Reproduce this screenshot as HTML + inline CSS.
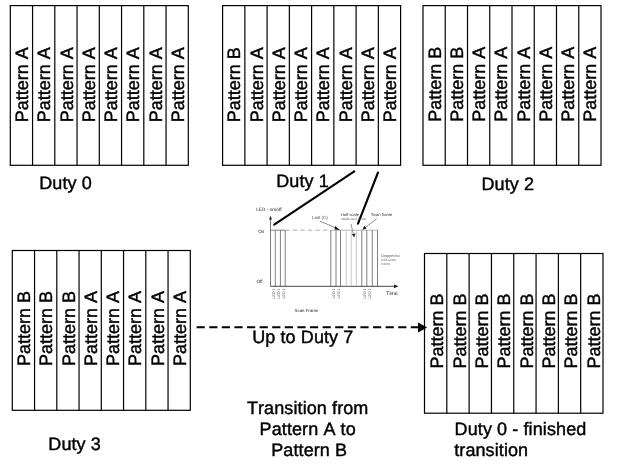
<!DOCTYPE html><html><head><meta charset="utf-8"><style>html,body{margin:0;padding:0;background:#fff;}svg{display:block;will-change:transform;}text{font-family:"Liberation Sans",sans-serif;font-kerning:none;font-feature-settings:"kern" 0;}.t{stroke:#000;stroke-width:0.42px;}</style></head><body>
<svg text-rendering="geometricPrecision" width="620" height="465" viewBox="0 0 620 465">
<rect x="0" y="0" width="620" height="465" fill="#fff"/>
<g stroke="#000" stroke-width="1.2" fill="none">
<rect x="10.3" y="5.6" width="178.0" height="159.70"/>
<line x1="32.55" y1="5.6" x2="32.55" y2="165.3"/>
<line x1="54.80" y1="5.6" x2="54.80" y2="165.3"/>
<line x1="77.05" y1="5.6" x2="77.05" y2="165.3"/>
<line x1="99.30" y1="5.6" x2="99.30" y2="165.3"/>
<line x1="121.55" y1="5.6" x2="121.55" y2="165.3"/>
<line x1="143.80" y1="5.6" x2="143.80" y2="165.3"/>
<line x1="166.05" y1="5.6" x2="166.05" y2="165.3"/>
</g>
<text class="t" font-size="18" fill="#000" text-anchor="middle" transform="translate(28.02,84.65) rotate(-90)">Pattern A</text>
<text class="t" font-size="18" fill="#000" text-anchor="middle" transform="translate(50.27,84.65) rotate(-90)">Pattern A</text>
<text class="t" font-size="18" fill="#000" text-anchor="middle" transform="translate(72.52,84.65) rotate(-90)">Pattern A</text>
<text class="t" font-size="18" fill="#000" text-anchor="middle" transform="translate(94.77,84.65) rotate(-90)">Pattern A</text>
<text class="t" font-size="18" fill="#000" text-anchor="middle" transform="translate(117.02,84.65) rotate(-90)">Pattern A</text>
<text class="t" font-size="18" fill="#000" text-anchor="middle" transform="translate(139.28,84.65) rotate(-90)">Pattern A</text>
<text class="t" font-size="18" fill="#000" text-anchor="middle" transform="translate(161.53,84.65) rotate(-90)">Pattern A</text>
<text class="t" font-size="18" fill="#000" text-anchor="middle" transform="translate(183.78,84.65) rotate(-90)">Pattern A</text>
<g stroke="#000" stroke-width="1.2" fill="none">
<rect x="222.6" y="5.6" width="178.0" height="159.70"/>
<line x1="244.85" y1="5.6" x2="244.85" y2="165.3"/>
<line x1="267.10" y1="5.6" x2="267.10" y2="165.3"/>
<line x1="289.35" y1="5.6" x2="289.35" y2="165.3"/>
<line x1="311.60" y1="5.6" x2="311.60" y2="165.3"/>
<line x1="333.85" y1="5.6" x2="333.85" y2="165.3"/>
<line x1="356.10" y1="5.6" x2="356.10" y2="165.3"/>
<line x1="378.35" y1="5.6" x2="378.35" y2="165.3"/>
</g>
<text class="t" font-size="18" fill="#000" text-anchor="middle" transform="translate(240.32,84.65) rotate(-90)">Pattern B</text>
<text class="t" font-size="18" fill="#000" text-anchor="middle" transform="translate(262.57,84.65) rotate(-90)">Pattern A</text>
<text class="t" font-size="18" fill="#000" text-anchor="middle" transform="translate(284.83,84.65) rotate(-90)">Pattern A</text>
<text class="t" font-size="18" fill="#000" text-anchor="middle" transform="translate(307.08,84.65) rotate(-90)">Pattern A</text>
<text class="t" font-size="18" fill="#000" text-anchor="middle" transform="translate(329.33,84.65) rotate(-90)">Pattern A</text>
<text class="t" font-size="18" fill="#000" text-anchor="middle" transform="translate(351.58,84.65) rotate(-90)">Pattern A</text>
<text class="t" font-size="18" fill="#000" text-anchor="middle" transform="translate(373.83,84.65) rotate(-90)">Pattern A</text>
<text class="t" font-size="18" fill="#000" text-anchor="middle" transform="translate(396.08,84.65) rotate(-90)">Pattern A</text>
<g stroke="#000" stroke-width="1.2" fill="none">
<rect x="423.0" y="5.6" width="178.0" height="159.70"/>
<line x1="445.25" y1="5.6" x2="445.25" y2="165.3"/>
<line x1="467.50" y1="5.6" x2="467.50" y2="165.3"/>
<line x1="489.75" y1="5.6" x2="489.75" y2="165.3"/>
<line x1="512.00" y1="5.6" x2="512.00" y2="165.3"/>
<line x1="534.25" y1="5.6" x2="534.25" y2="165.3"/>
<line x1="556.50" y1="5.6" x2="556.50" y2="165.3"/>
<line x1="578.75" y1="5.6" x2="578.75" y2="165.3"/>
</g>
<text class="t" font-size="18" fill="#000" text-anchor="middle" transform="translate(440.73,84.25) rotate(-90)">Pattern B</text>
<text class="t" font-size="18" fill="#000" text-anchor="middle" transform="translate(462.98,84.25) rotate(-90)">Pattern B</text>
<text class="t" font-size="18" fill="#000" text-anchor="middle" transform="translate(485.23,84.25) rotate(-90)">Pattern A</text>
<text class="t" font-size="18" fill="#000" text-anchor="middle" transform="translate(507.48,84.25) rotate(-90)">Pattern A</text>
<text class="t" font-size="18" fill="#000" text-anchor="middle" transform="translate(529.73,84.25) rotate(-90)">Pattern A</text>
<text class="t" font-size="18" fill="#000" text-anchor="middle" transform="translate(551.98,84.25) rotate(-90)">Pattern A</text>
<text class="t" font-size="18" fill="#000" text-anchor="middle" transform="translate(574.23,84.25) rotate(-90)">Pattern A</text>
<text class="t" font-size="18" fill="#000" text-anchor="middle" transform="translate(596.48,84.25) rotate(-90)">Pattern A</text>
<g stroke="#000" stroke-width="1.2" fill="none">
<rect x="12.3" y="250.5" width="178.0" height="159.80"/>
<line x1="34.55" y1="250.5" x2="34.55" y2="410.3"/>
<line x1="56.80" y1="250.5" x2="56.80" y2="410.3"/>
<line x1="79.05" y1="250.5" x2="79.05" y2="410.3"/>
<line x1="101.30" y1="250.5" x2="101.30" y2="410.3"/>
<line x1="123.55" y1="250.5" x2="123.55" y2="410.3"/>
<line x1="145.80" y1="250.5" x2="145.80" y2="410.3"/>
<line x1="168.05" y1="250.5" x2="168.05" y2="410.3"/>
</g>
<text class="t" font-size="18" fill="#000" text-anchor="middle" transform="translate(30.02,328.40) rotate(-90)">Pattern B</text>
<text class="t" font-size="18" fill="#000" text-anchor="middle" transform="translate(52.27,328.40) rotate(-90)">Pattern B</text>
<text class="t" font-size="18" fill="#000" text-anchor="middle" transform="translate(74.52,328.40) rotate(-90)">Pattern B</text>
<text class="t" font-size="18" fill="#000" text-anchor="middle" transform="translate(96.77,328.40) rotate(-90)">Pattern A</text>
<text class="t" font-size="18" fill="#000" text-anchor="middle" transform="translate(119.02,328.40) rotate(-90)">Pattern A</text>
<text class="t" font-size="18" fill="#000" text-anchor="middle" transform="translate(141.28,328.40) rotate(-90)">Pattern A</text>
<text class="t" font-size="18" fill="#000" text-anchor="middle" transform="translate(163.53,328.40) rotate(-90)">Pattern A</text>
<text class="t" font-size="18" fill="#000" text-anchor="middle" transform="translate(185.78,328.40) rotate(-90)">Pattern A</text>
<g stroke="#000" stroke-width="1.2" fill="none">
<rect x="424.5" y="253.5" width="178.5" height="159.70"/>
<line x1="446.81" y1="253.5" x2="446.81" y2="413.2"/>
<line x1="469.12" y1="253.5" x2="469.12" y2="413.2"/>
<line x1="491.44" y1="253.5" x2="491.44" y2="413.2"/>
<line x1="513.75" y1="253.5" x2="513.75" y2="413.2"/>
<line x1="536.06" y1="253.5" x2="536.06" y2="413.2"/>
<line x1="558.38" y1="253.5" x2="558.38" y2="413.2"/>
<line x1="580.69" y1="253.5" x2="580.69" y2="413.2"/>
</g>
<text class="t" font-size="18" fill="#000" text-anchor="middle" transform="translate(443.46,330.95) rotate(-90)">Pattern B</text>
<text class="t" font-size="18" fill="#000" text-anchor="middle" transform="translate(465.77,330.95) rotate(-90)">Pattern B</text>
<text class="t" font-size="18" fill="#000" text-anchor="middle" transform="translate(488.08,330.95) rotate(-90)">Pattern B</text>
<text class="t" font-size="18" fill="#000" text-anchor="middle" transform="translate(510.39,330.95) rotate(-90)">Pattern B</text>
<text class="t" font-size="18" fill="#000" text-anchor="middle" transform="translate(532.71,330.95) rotate(-90)">Pattern B</text>
<text class="t" font-size="18" fill="#000" text-anchor="middle" transform="translate(555.02,330.95) rotate(-90)">Pattern B</text>
<text class="t" font-size="18" fill="#000" text-anchor="middle" transform="translate(577.33,330.95) rotate(-90)">Pattern B</text>
<text class="t" font-size="18" fill="#000" text-anchor="middle" transform="translate(599.64,330.95) rotate(-90)">Pattern B</text>
<text class="t" x="39.2" y="188.5" font-size="18" fill="#000" text-anchor="start" letter-spacing="0.1">Duty 0</text>
<text class="t" x="276.2" y="186.6" font-size="18" fill="#000" text-anchor="start" letter-spacing="0.1">Duty 1</text>
<text class="t" x="481.5" y="189.5" font-size="18" fill="#000" text-anchor="start" letter-spacing="0.1">Duty 2</text>
<text class="t" x="48.3" y="450.3" font-size="18" fill="#000" text-anchor="start" letter-spacing="0.1">Duty 3</text>
<text class="t" x="252.2" y="343.4" font-size="18" fill="#000" text-anchor="start" letter-spacing="0.1">Up to Duty 7</text>
<text class="t" x="307.7" y="413.5" font-size="18" fill="#000" text-anchor="middle" letter-spacing="0.1">Transition from</text>
<text class="t" x="307.7" y="434.8" font-size="18" fill="#000" text-anchor="middle" letter-spacing="0.1">Pattern A to</text>
<text class="t" x="309.2" y="456.0" font-size="18" fill="#000" text-anchor="middle" letter-spacing="0.1">Pattern B</text>
<text class="t" x="454.6" y="434.7" font-size="18" fill="#000" text-anchor="start" letter-spacing="0.1">Duty 0 - finished</text>
<text class="t" x="454.2" y="455.6" font-size="18" fill="#000" text-anchor="start" letter-spacing="0.1">transition</text>
<g stroke="#000" stroke-width="2.1" stroke-linecap="round"><line x1="354.3" y1="171.4" x2="274.2" y2="224.7"/><line x1="378" y1="172.5" x2="358" y2="223.7"/></g>
<line x1="196.6" y1="327.2" x2="419" y2="327.2" stroke="#000" stroke-width="2.1" stroke-dasharray="8.2 4.4"/>
<polygon points="418,322.4 427.2,327.4 418,332.6" fill="#000"/>
<line x1="270.5" y1="218" x2="270.5" y2="286.3" stroke="#555" stroke-width="0.8"/>
<polygon points="269,219.5 270.5,215.8 272,219.5" fill="#222"/>
<line x1="270.5" y1="286.3" x2="395" y2="286.3" stroke="#333" stroke-width="0.9"/>
<polygon points="394,284.4 398.6,286.3 394,288.2" fill="#222"/>
<line x1="270.5" y1="230.2" x2="285.3" y2="230.2" stroke="#555" stroke-width="0.7"/>
<line x1="285.3" y1="230.2" x2="330.8" y2="230.2" stroke="#999" stroke-width="0.8" stroke-dasharray="4.5 3"/>
<line x1="330.8" y1="230.2" x2="377.6" y2="230.2" stroke="#999" stroke-width="0.7"/>
<line x1="275.3" y1="230.2" x2="275.3" y2="286.3" stroke="#555" stroke-width="0.75"/>
<line x1="280.4" y1="230.2" x2="280.4" y2="286.3" stroke="#555" stroke-width="0.75"/>
<line x1="285.2" y1="230.2" x2="285.2" y2="286.3" stroke="#555" stroke-width="0.75"/>
<line x1="330.8" y1="230.2" x2="330.8" y2="286.3" stroke="#555" stroke-width="0.75"/>
<line x1="336.0" y1="230.2" x2="336.0" y2="286.3" stroke="#555" stroke-width="0.75"/>
<line x1="340.5" y1="230.2" x2="340.5" y2="286.3" stroke="#555" stroke-width="0.75"/>
<line x1="361.8" y1="230.2" x2="361.8" y2="286.3" stroke="#555" stroke-width="0.75"/>
<line x1="366.8" y1="230.2" x2="366.8" y2="286.3" stroke="#555" stroke-width="0.75"/>
<line x1="372.3" y1="230.2" x2="372.3" y2="286.3" stroke="#555" stroke-width="0.75"/>
<line x1="377.5" y1="230.2" x2="377.5" y2="286.3" stroke="#555" stroke-width="0.75"/>
<line x1="346.2" y1="230.2" x2="346.2" y2="286.3" stroke="#bbb" stroke-width="0.8"/>
<line x1="351.2" y1="230.2" x2="351.2" y2="286.3" stroke="#bbb" stroke-width="0.8"/>
<line x1="356.4" y1="230.2" x2="356.4" y2="286.3" stroke="#bbb" stroke-width="0.8"/>
<line x1="319.8" y1="221.1" x2="336" y2="228" stroke="#444" stroke-width="0.6"/>
<polygon points="335,226 340,229.9 334.6,229.6" fill="#111"/>
<line x1="376.7" y1="218.6" x2="365" y2="228" stroke="#444" stroke-width="0.6"/>
<polygon points="362.6,229.8 364.2,225.8 366.6,228.4" fill="#111"/>
<line x1="351" y1="223.9" x2="353.4" y2="234.5" stroke="#555" stroke-width="0.6"/>
<polygon points="351.8,234.2 354.2,237.6 355.4,233.6" fill="#222"/>
<text x="256.2" y="211.4" font-size="4.75" fill="#222" text-anchor="start">LED - on/off</text>
<text x="258.3" y="232.7" font-size="4.6" fill="#222" text-anchor="start">On</text>
<text x="256.4" y="283.3" font-size="4.7" fill="#222" text-anchor="start">Off</text>
<text x="312" y="219.0" font-size="4.4" fill="#444" text-anchor="start">Last (C)</text>
<text x="340.8" y="215.9" font-size="4.1" fill="#333" text-anchor="start">Half-scale</text>
<text x="341.2" y="220.4" font-size="3.4" fill="#666" text-anchor="start">starts next frame</text>
<text x="371" y="215.9" font-size="4.2" fill="#333" text-anchor="start">Scan frame</text>
<text x="381.3" y="257.0" font-size="3.7" fill="#555" text-anchor="start">Dropped to</text>
<text x="381.3" y="261.4" font-size="3.5" fill="#777" text-anchor="start">half-scale</text>
<text x="381.3" y="265.4" font-size="3.5" fill="#777" text-anchor="start">frame</text>
<text x="386.3" y="294.9" font-size="5.1" fill="#111" text-anchor="start">Time</text>
<text x="294.6" y="312.2" font-size="4.35" fill="#222" text-anchor="start">Scan Frame</text>
<text font-size="3.6" fill="#333" text-anchor="end" transform="translate(274.6,288.4) rotate(-90)">LED 1</text>
<text font-size="3.6" fill="#333" text-anchor="end" transform="translate(279.6,288.4) rotate(-90)">LED 1</text>
<text font-size="3.6" fill="#333" text-anchor="end" transform="translate(284.6,288.4) rotate(-90)">LED 1</text>
<text font-size="3.6" fill="#333" text-anchor="end" transform="translate(335.0,288.4) rotate(-90)">LED 1</text>
<text font-size="3.6" fill="#333" text-anchor="end" transform="translate(340.0,288.4) rotate(-90)">LED 1</text>
<text font-size="3.6" fill="#333" text-anchor="end" transform="translate(366.0,288.4) rotate(-90)">LED 1</text>
<text font-size="3.6" fill="#333" text-anchor="end" transform="translate(371.0,288.4) rotate(-90)">LED 1</text>
</svg></body></html>
